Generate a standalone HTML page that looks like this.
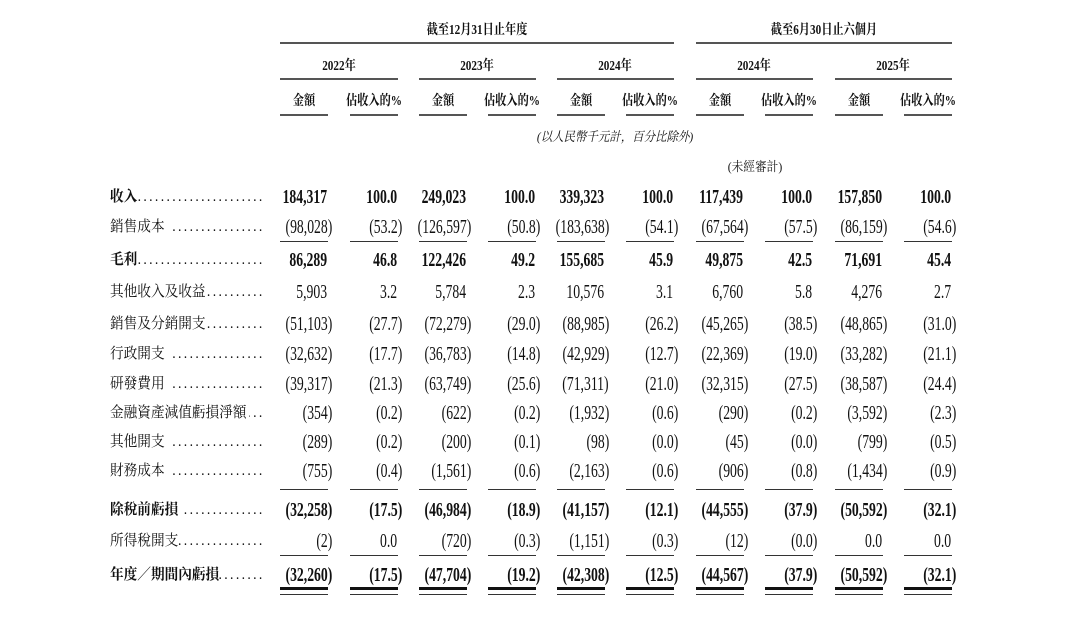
<!DOCTYPE html>
<html><head><meta charset="utf-8">
<style>
html,body{margin:0;padding:0}
body{width:1080px;height:638px;background:#fff;position:relative;overflow:hidden;font-family:"Liberation Serif","Noto Serif CJK SC",serif;color:#111}
.r{position:absolute;left:0;width:1080px;height:22px}
.n{position:absolute;top:0;height:22px;line-height:22px;font-size:20px;white-space:nowrap;transform:scaleX(.685);transform-origin:100% 50%}
.b .n,.b .t{font-weight:bold}
.h{visibility:hidden}
.c1{right:748px}.c2{right:678px}.c3{right:609px}.c4{right:540px}.c5{right:471px}
.c6{right:402px}.c7{right:332px}.c8{right:263px}.c9{right:193px}.c10{right:124px}
.lb{position:absolute;left:110px;top:0;width:170px;height:22px;line-height:22px;font-size:15px;display:flex;transform:scaleX(.91);transform-origin:0 50%;white-space:nowrap}
.lb .t{flex:none}
.lb .t.s{margin-right:6px}
.lb .t.s2{margin-right:3px}
.lb .d{flex:1;overflow:hidden;direction:rtl;text-align:right;letter-spacing:2.6px;font-weight:normal}
.ln{position:absolute;background:#333;height:1px}
.hl{position:absolute;background:#555;height:2px}
.hd{position:absolute;text-align:center;white-space:nowrap;font-weight:bold;font-size:14px;height:20px;line-height:20px;transform:scaleX(.8);transform-origin:50% 50%}
</style></head><body>

<!-- header -->
<div class="hd" style="left:377px;width:200px;top:21px">截至12月31日止年度</div>
<div class="hd" style="left:724px;width:200px;top:21px">截至6月30日止六個月</div>
<div class="hl" style="left:280px;width:394px;top:42px"></div>
<div class="hl" style="left:696px;width:256px;top:42px"></div>

<div class="hd" style="left:289px;width:100px;top:57px">2022年</div>
<div class="hd" style="left:427px;width:100px;top:57px">2023年</div>
<div class="hd" style="left:565px;width:100px;top:57px">2024年</div>
<div class="hd" style="left:704px;width:100px;top:57px">2024年</div>
<div class="hd" style="left:843px;width:100px;top:57px">2025年</div>
<div class="hl" style="left:280px;width:118px;top:78px"></div>
<div class="hl" style="left:419px;width:117px;top:78px"></div>
<div class="hl" style="left:557px;width:117px;top:78px"></div>
<div class="hl" style="left:696px;width:117px;top:78px"></div>
<div class="hl" style="left:835px;width:117px;top:78px"></div>

<div class="hd" style="left:264px;width:80px;top:92px">金額</div>
<div class="hd" style="left:334px;width:80px;top:92px">佔收入的%</div>
<div class="hd" style="left:403px;width:80px;top:92px">金額</div>
<div class="hd" style="left:472px;width:80px;top:92px">佔收入的%</div>
<div class="hd" style="left:541px;width:80px;top:92px">金額</div>
<div class="hd" style="left:610px;width:80px;top:92px">佔收入的%</div>
<div class="hd" style="left:680px;width:80px;top:92px">金額</div>
<div class="hd" style="left:749px;width:80px;top:92px">佔收入的%</div>
<div class="hd" style="left:819px;width:80px;top:92px">金額</div>
<div class="hd" style="left:888px;width:80px;top:92px">佔收入的%</div>
<div class="hl" style="left:280px;width:48px;top:114px"></div>
<div class="hl" style="left:350px;width:48px;top:114px"></div>
<div class="hl" style="left:419px;width:48px;top:114px"></div>
<div class="hl" style="left:488px;width:48px;top:114px"></div>
<div class="hl" style="left:557px;width:48px;top:114px"></div>
<div class="hl" style="left:626px;width:48px;top:114px"></div>
<div class="hl" style="left:696px;width:48px;top:114px"></div>
<div class="hl" style="left:765px;width:48px;top:114px"></div>
<div class="hl" style="left:835px;width:48px;top:114px"></div>
<div class="hl" style="left:904px;width:48px;top:114px"></div>

<div class="hd" style="left:515px;width:200px;top:127px;font-weight:normal;font-style:italic;font-size:13px;transform:scaleX(.88)">(以人民幣千元計，百分比除外)</div>
<div class="hd" style="left:705px;width:100px;top:157px;font-weight:normal;font-size:13px;transform:scaleX(.9)">(未經審計)</div>

<!-- rows -->
<div class="r b" style="top:186px">
<div class="lb"><span class="t">收入</span><span class="d">..............................................</span></div>
<div class="n c1">184,317<span class="h">)</span></div><div class="n c2">100.0<span class="h">)</span></div>
<div class="n c3">249,023<span class="h">)</span></div><div class="n c4">100.0<span class="h">)</span></div>
<div class="n c5">339,323<span class="h">)</span></div><div class="n c6">100.0<span class="h">)</span></div>
<div class="n c7">117,439<span class="h">)</span></div><div class="n c8">100.0<span class="h">)</span></div>
<div class="n c9">157,850<span class="h">)</span></div><div class="n c10">100.0<span class="h">)</span></div>
</div>

<div class="r" style="top:216px">
<div class="lb"><span class="t s">銷售成本</span><span class="d">..............................................</span></div>
<div class="n c1">(98,028)</div><div class="n c2">(53.2)</div>
<div class="n c3">(126,597)</div><div class="n c4">(50.8)</div>
<div class="n c5">(183,638)</div><div class="n c6">(54.1)</div>
<div class="n c7">(67,564)</div><div class="n c8">(57.5)</div>
<div class="n c9">(86,159)</div><div class="n c10">(54.6)</div>
</div>

<div class="r b" style="top:249px">
<div class="lb"><span class="t">毛利</span><span class="d">..............................................</span></div>
<div class="n c1">86,289<span class="h">)</span></div><div class="n c2">46.8<span class="h">)</span></div>
<div class="n c3">122,426<span class="h">)</span></div><div class="n c4">49.2<span class="h">)</span></div>
<div class="n c5">155,685<span class="h">)</span></div><div class="n c6">45.9<span class="h">)</span></div>
<div class="n c7">49,875<span class="h">)</span></div><div class="n c8">42.5<span class="h">)</span></div>
<div class="n c9">71,691<span class="h">)</span></div><div class="n c10">45.4<span class="h">)</span></div>
</div>

<div class="r" style="top:281px">
<div class="lb"><span class="t">其他收入及收益</span><span class="d">..............................................</span></div>
<div class="n c1">5,903<span class="h">)</span></div><div class="n c2">3.2<span class="h">)</span></div>
<div class="n c3">5,784<span class="h">)</span></div><div class="n c4">2.3<span class="h">)</span></div>
<div class="n c5">10,576<span class="h">)</span></div><div class="n c6">3.1<span class="h">)</span></div>
<div class="n c7">6,760<span class="h">)</span></div><div class="n c8">5.8<span class="h">)</span></div>
<div class="n c9">4,276<span class="h">)</span></div><div class="n c10">2.7<span class="h">)</span></div>
</div>

<div class="r" style="top:313px">
<div class="lb"><span class="t">銷售及分銷開支</span><span class="d">..............................................</span></div>
<div class="n c1">(51,103)</div><div class="n c2">(27.7)</div>
<div class="n c3">(72,279)</div><div class="n c4">(29.0)</div>
<div class="n c5">(88,985)</div><div class="n c6">(26.2)</div>
<div class="n c7">(45,265)</div><div class="n c8">(38.5)</div>
<div class="n c9">(48,865)</div><div class="n c10">(31.0)</div>
</div>

<div class="r" style="top:343px">
<div class="lb"><span class="t s">行政開支</span><span class="d">..............................................</span></div>
<div class="n c1">(32,632)</div><div class="n c2">(17.7)</div>
<div class="n c3">(36,783)</div><div class="n c4">(14.8)</div>
<div class="n c5">(42,929)</div><div class="n c6">(12.7)</div>
<div class="n c7">(22,369)</div><div class="n c8">(19.0)</div>
<div class="n c9">(33,282)</div><div class="n c10">(21.1)</div>
</div>

<div class="r" style="top:373px">
<div class="lb"><span class="t s">研發費用</span><span class="d">..............................................</span></div>
<div class="n c1">(39,317)</div><div class="n c2">(21.3)</div>
<div class="n c3">(63,749)</div><div class="n c4">(25.6)</div>
<div class="n c5">(71,311)</div><div class="n c6">(21.0)</div>
<div class="n c7">(32,315)</div><div class="n c8">(27.5)</div>
<div class="n c9">(38,587)</div><div class="n c10">(24.4)</div>
</div>

<div class="r" style="top:402px">
<div class="lb"><span class="t s2">金融資產減值虧損淨額</span><span class="d">..............................................</span></div>
<div class="n c1">(354)</div><div class="n c2">(0.2)</div>
<div class="n c3">(622)</div><div class="n c4">(0.2)</div>
<div class="n c5">(1,932)</div><div class="n c6">(0.6)</div>
<div class="n c7">(290)</div><div class="n c8">(0.2)</div>
<div class="n c9">(3,592)</div><div class="n c10">(2.3)</div>
</div>

<div class="r" style="top:431px">
<div class="lb"><span class="t s">其他開支</span><span class="d">..............................................</span></div>
<div class="n c1">(289)</div><div class="n c2">(0.2)</div>
<div class="n c3">(200)</div><div class="n c4">(0.1)</div>
<div class="n c5">(98)</div><div class="n c6">(0.0)</div>
<div class="n c7">(45)</div><div class="n c8">(0.0)</div>
<div class="n c9">(799)</div><div class="n c10">(0.5)</div>
</div>

<div class="r" style="top:460px">
<div class="lb"><span class="t s">財務成本</span><span class="d">..............................................</span></div>
<div class="n c1">(755)</div><div class="n c2">(0.4)</div>
<div class="n c3">(1,561)</div><div class="n c4">(0.6)</div>
<div class="n c5">(2,163)</div><div class="n c6">(0.6)</div>
<div class="n c7">(906)</div><div class="n c8">(0.8)</div>
<div class="n c9">(1,434)</div><div class="n c10">(0.9)</div>
</div>

<div class="r b" style="top:499px">
<div class="lb"><span class="t s">除稅前虧損</span><span class="d">..............................................</span></div>
<div class="n c1">(32,258)</div><div class="n c2">(17.5)</div>
<div class="n c3">(46,984)</div><div class="n c4">(18.9)</div>
<div class="n c5">(41,157)</div><div class="n c6">(12.1)</div>
<div class="n c7">(44,555)</div><div class="n c8">(37.9)</div>
<div class="n c9">(50,592)</div><div class="n c10">(32.1)</div>
</div>

<div class="r" style="top:530px">
<div class="lb"><span class="t">所得稅開支</span><span class="d">..............................................</span></div>
<div class="n c1">(2)</div><div class="n c2">0.0<span class="h">)</span></div>
<div class="n c3">(720)</div><div class="n c4">(0.3)</div>
<div class="n c5">(1,151)</div><div class="n c6">(0.3)</div>
<div class="n c7">(12)</div><div class="n c8">(0.0)</div>
<div class="n c9">0.0<span class="h">)</span></div><div class="n c10">0.0<span class="h">)</span></div>
</div>

<div class="r b" style="top:564px">
<div class="lb"><span class="t">年度／期間內虧損</span><span class="d">..............................................</span></div>
<div class="n c1">(32,260)</div><div class="n c2">(17.5)</div>
<div class="n c3">(47,704)</div><div class="n c4">(19.2)</div>
<div class="n c5">(42,308)</div><div class="n c6">(12.5)</div>
<div class="n c7">(44,567)</div><div class="n c8">(37.9)</div>
<div class="n c9">(50,592)</div><div class="n c10">(32.1)</div>
</div>

<!-- underlines -->
<div class="ln" style="left:280px;width:48px;top:241px"></div><div class="ln" style="left:350px;width:48px;top:241px"></div>
<div class="ln" style="left:419px;width:48px;top:241px"></div><div class="ln" style="left:488px;width:48px;top:241px"></div>
<div class="ln" style="left:557px;width:48px;top:241px"></div><div class="ln" style="left:626px;width:48px;top:241px"></div>
<div class="ln" style="left:696px;width:48px;top:241px"></div><div class="ln" style="left:765px;width:48px;top:241px"></div>
<div class="ln" style="left:835px;width:48px;top:241px"></div><div class="ln" style="left:904px;width:48px;top:241px"></div>

<div class="ln" style="left:280px;width:48px;top:489px"></div><div class="ln" style="left:350px;width:48px;top:489px"></div>
<div class="ln" style="left:419px;width:48px;top:489px"></div><div class="ln" style="left:488px;width:48px;top:489px"></div>
<div class="ln" style="left:557px;width:48px;top:489px"></div><div class="ln" style="left:626px;width:48px;top:489px"></div>
<div class="ln" style="left:696px;width:48px;top:489px"></div><div class="ln" style="left:765px;width:48px;top:489px"></div>
<div class="ln" style="left:835px;width:48px;top:489px"></div><div class="ln" style="left:904px;width:48px;top:489px"></div>

<div class="ln" style="left:280px;width:48px;top:555px"></div><div class="ln" style="left:350px;width:48px;top:555px"></div>
<div class="ln" style="left:419px;width:48px;top:555px"></div><div class="ln" style="left:488px;width:48px;top:555px"></div>
<div class="ln" style="left:557px;width:48px;top:555px"></div><div class="ln" style="left:626px;width:48px;top:555px"></div>
<div class="ln" style="left:696px;width:48px;top:555px"></div><div class="ln" style="left:765px;width:48px;top:555px"></div>
<div class="ln" style="left:835px;width:48px;top:555px"></div><div class="ln" style="left:904px;width:48px;top:555px"></div>

<div class="ln" style="left:280px;width:48px;top:587px;height:3px;background:#111"></div><div class="ln" style="left:350px;width:48px;top:587px;height:3px;background:#111"></div>
<div class="ln" style="left:419px;width:48px;top:587px;height:3px;background:#111"></div><div class="ln" style="left:488px;width:48px;top:587px;height:3px;background:#111"></div>
<div class="ln" style="left:557px;width:48px;top:587px;height:3px;background:#111"></div><div class="ln" style="left:626px;width:48px;top:587px;height:3px;background:#111"></div>
<div class="ln" style="left:696px;width:48px;top:587px;height:3px;background:#111"></div><div class="ln" style="left:765px;width:48px;top:587px;height:3px;background:#111"></div>
<div class="ln" style="left:835px;width:48px;top:587px;height:3px;background:#111"></div><div class="ln" style="left:904px;width:48px;top:587px;height:3px;background:#111"></div>

<div class="ln" style="left:280px;width:48px;top:594px"></div><div class="ln" style="left:350px;width:48px;top:594px"></div>
<div class="ln" style="left:419px;width:48px;top:594px"></div><div class="ln" style="left:488px;width:48px;top:594px"></div>
<div class="ln" style="left:557px;width:48px;top:594px"></div><div class="ln" style="left:626px;width:48px;top:594px"></div>
<div class="ln" style="left:696px;width:48px;top:594px"></div><div class="ln" style="left:765px;width:48px;top:594px"></div>
<div class="ln" style="left:835px;width:48px;top:594px"></div><div class="ln" style="left:904px;width:48px;top:594px"></div>

</body></html>
